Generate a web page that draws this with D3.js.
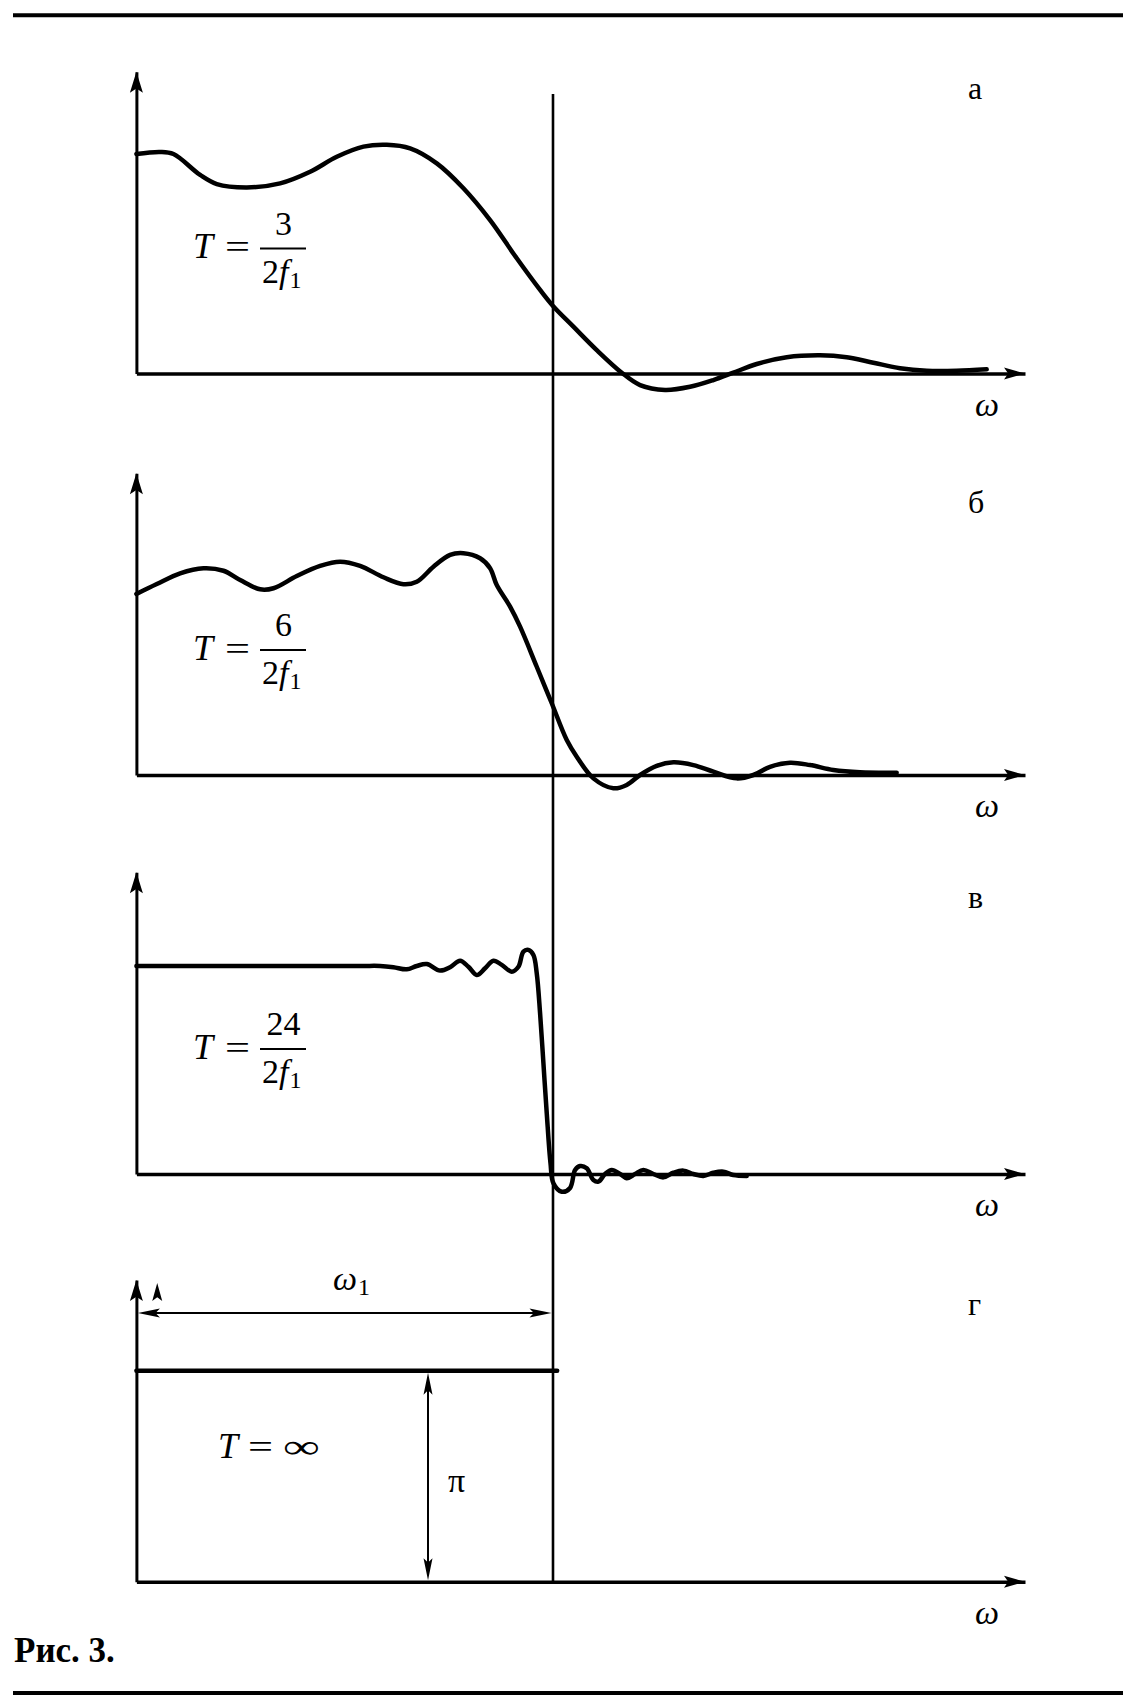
<!DOCTYPE html>
<html><head><meta charset="utf-8">
<script src="https://cdn.jsdelivr.net/npm/d3@7"></script>
<style>
body{margin:0;background:#fff}
text{font-family:"Liberation Serif","Times New Roman",serif;fill:#000}
</style>
</head><body>
<svg id="c" width="1138" height="1700"></svg>
<script>
// ---- data (ω in units of ω1, H in units of π) ----
const omegaA = [0, 0.057, 0.089, 0.153, 0.193, 0.265, 0.345, 0.417, 0.481, 0.545, 0.601, 0.657, 0.721, 0.785, 0.849, 0.913, 0.969, 1.0, 1.049, 1.105, 1.165, 1.209, 1.269, 1.329, 1.385, 1.433, 1.489, 1.561, 1.641, 1.705, 1.769, 1.833, 1.897, 1.969, 2.041];
const hA = [1.040, 1.050, 1.040, 0.941, 0.898, 0.882, 0.901, 0.956, 1.027, 1.075, 1.084, 1.067, 0.996, 0.878, 0.727, 0.546, 0.396, 0.320, 0.222, 0.111, 0.004, -0.055, -0.078, -0.063, -0.031, 0.004, 0.045, 0.077, 0.086, 0.077, 0.051, 0.025, 0.013, 0.013, 0.020];

const omegaB = [0, 0.049, 0.105, 0.161, 0.209, 0.249, 0.297, 0.329, 0.385, 0.441, 0.489, 0.537, 0.593, 0.641, 0.673, 0.713, 0.753, 0.785, 0.825, 0.849, 0.865, 0.897, 0.921, 0.961, 0.997, 1.033, 1.057, 1.097, 1.145, 1.177, 1.209, 1.249, 1.289, 1.337, 1.385, 1.441, 1.481, 1.521, 1.569, 1.617, 1.673, 1.737, 1.825];
const hB = [0.858, 0.905, 0.956, 0.980, 0.968, 0.924, 0.880, 0.885, 0.943, 0.991, 1.011, 0.991, 0.937, 0.904, 0.916, 0.987, 1.043, 1.051, 1.027, 0.980, 0.900, 0.798, 0.703, 0.513, 0.340, 0.166, 0.087, -0.016, -0.063, -0.047, 0, 0.043, 0.060, 0.047, 0.016, -0.016, 0, 0.039, 0.058, 0.047, 0.024, 0.013, 0.011];

const omegaC = [0, 0.537, 0.585, 0.617, 0.649, 0.673, 0.697, 0.729, 0.753, 0.777, 0.797, 0.817, 0.837, 0.857, 0.877, 0.901, 0.917, 0.929, 0.941, 0.953, 0.961, 0.969, 0.977, 0.985, 0.994, 1.001, 1.021, 1.041, 1.053, 1.065, 1.081, 1.097, 1.109, 1.125, 1.141, 1.161, 1.177, 1.197, 1.217, 1.241, 1.265, 1.289, 1.313, 1.337, 1.361, 1.385, 1.409, 1.433, 1.465];
const hC = [0.986, 0.986, 0.986, 0.980, 0.970, 0.986, 0.995, 0.964, 0.980, 1.011, 0.982, 0.943, 0.975, 1.011, 0.991, 0.959, 0.982, 1.054, 1.062, 1.038, 0.951, 0.762, 0.525, 0.288, 0.051, -0.044, -0.084, -0.066, 0.019, 0.038, 0.027, -0.028, -0.036, 0, 0.019, 0, -0.020, 0, 0.019, 0, -0.016, 0.006, 0.016, 0, -0.009, 0.006, 0.011, -0.005, -0.009];

const omegaD = [0, 1.01];
const hD = [1, 1];

const panelLetters = ["а", "б", "в", "г"];
const numerators = ["3", "6", "24", null];
const axisLabel = "ω";
const caption = "Рис. 3.";

// ---- layout ----
const omegaMax = 2.133, hMax = 1.43;
const axisYs = [373.5, 775, 1174, 1581.7];
const letterYs = [99, 513, 908, 1315];
const unitPx = 211;

const svg = d3.select("#c");
svg.append("rect").attr("width",1138).attr("height",1700).attr("fill","#fff");

const x = d3.scaleLinear().domain([0, omegaMax]).range([136.4, 1025]);

function arrowPath(len, hw){ return `M0,0L${-len},${-hw}L${-len*0.8},0L${-len},${hw}Z`; }
function arrow(g, px, py, ang, len, hw){
  g.append("path").attr("d", arrowPath(len, hw))
   .attr("transform", `translate(${px},${py}) rotate(${ang})`).attr("fill","#000");
}

const series = [
  {om: omegaA, h: hA}, {om: omegaB, h: hB}, {om: omegaC, h: hC}, {om: omegaD, h: hD}
];
const yScales = [];

axisYs.forEach((ay, i) => {
  const y = d3.scaleLinear().domain([0, hMax]).range([ay, ay - hMax*unitPx]);
  yScales.push(y);
  const g = svg.append("g");
  // axes
  const xa = g.append("g").attr("transform", `translate(0,${ay})`)
    .call(d3.axisBottom(x).tickValues([]).tickSizeOuter(0));
  xa.select(".domain").attr("stroke","#000").attr("stroke-width",3.5);
  const ya = g.append("g").attr("transform", `translate(${x(0)},0)`)
    .call(d3.axisLeft(y).tickValues([]).tickSizeOuter(0));
  ya.select(".domain").attr("stroke","#000").attr("stroke-width",3);
  arrow(g, x(omegaMax), ay, 0, 21, 6);
  arrow(g, x(0), y(hMax), -90, 21, 6.5);

  // curve
  const s = series[i];
  const pts = s.om.map((o, k) => [o, s.h[k]]);
  const line = d3.line().x(d => x(d[0])).y(d => y(d[1]))
    .curve(i === 3 ? d3.curveLinear : d3.curveCatmullRom.alpha(0.5));
  g.append("path").datum(pts).attr("d", line).attr("fill","none")
    .attr("stroke","#000").attr("stroke-width",4.5)
    .attr("stroke-linecap","round").attr("stroke-linejoin","round");

  // panel letter
  g.append("text").attr("x",968).attr("y",letterYs[i]).attr("font-size",32).text(panelLetters[i]);
  // axis label ω
  g.append("text").attr("x",975).attr("y",ay+42).attr("font-size",34)
    .attr("font-style","italic").text(axisLabel);

  // T label
  if (numerators[i]) {
    g.append("text").attr("x",193).attr("y",ay-115.5).attr("font-size",36)
      .attr("font-style","italic").text("T");
    g.append("text").attr("x",225).attr("y",ay-115.5).attr("font-size",34)
      .attr("textLength",25).attr("lengthAdjust","spacingAndGlyphs").text("=");
    g.append("line").attr("x1",260).attr("x2",306).attr("y1",ay-125).attr("y2",ay-125)
      .attr("stroke","#000").attr("stroke-width",2.2);
    g.append("text").attr("x",283.5).attr("y",ay-139).attr("font-size",34)
      .attr("text-anchor","middle").text(numerators[i]);
    const den = g.append("text").attr("x",262).attr("y",ay-91).attr("font-size",34);
    den.append("tspan").text("2");
    den.append("tspan").attr("font-style","italic").text("f");
    den.append("tspan").attr("font-size",24).attr("dy",5).attr("dx",1).text("1");
  } else {
    g.append("text").attr("x",218).attr("y",ay-124).attr("font-size",36)
      .attr("font-style","italic").text("T");
    g.append("text").attr("x",248).attr("y",ay-124).attr("font-size",34)
      .attr("textLength",25).attr("lengthAdjust","spacingAndGlyphs").text("=");
    g.append("text").attr("x",283).attr("y",ay-124).attr("font-size",34)
      .attr("textLength",37).attr("lengthAdjust","spacingAndGlyphs").text("∞");
  }
});

// vertical ω1 line across all panels
const yA = yScales[0], yD = yScales[3];
svg.append("line").attr("x1",x(1)).attr("x2",x(1)).attr("y1",yA(1.325)).attr("y2",yD(0))
  .attr("stroke","#000").attr("stroke-width",2.6);

// panel г annotations
const gD = svg.append("g");
const yDim = 1.273;
gD.append("line").attr("x1",x(0)+10).attr("x2",x(1)-10).attr("y1",yD(yDim)).attr("y2",yD(yDim))
  .attr("stroke","#000").attr("stroke-width",2);
arrow(gD, x(0)+1.5, yD(yDim), 180, 22, 4.5);
arrow(gD, x(1)-1.5, yD(yDim), 0, 22, 4.5);
gD.append("text").attr("x",333).attr("y",1290).attr("font-size",34).attr("font-style","italic").text("ω");
gD.append("text").attr("x",358).attr("y",1295).attr("font-size",24).text("1");
arrow(gD, x(0.05), yD(1.416), -90, 18, 5);

const xPi = 0.70;
gD.append("line").attr("x1",x(xPi)).attr("x2",x(xPi)).attr("y1",yD(0)-10).attr("y2",yD(1)+10)
  .attr("stroke","#000").attr("stroke-width",2);
arrow(gD, x(xPi), yD(1)+2, -90, 22, 4.5);
arrow(gD, x(xPi), yD(0)-1.5, 90, 22, 4.5);
gD.append("text").attr("x",448).attr("y",1492).attr("font-size",34).text("π");

// rules and caption
svg.append("line").attr("x1",13).attr("x2",1123).attr("y1",15.3).attr("y2",15.3)
  .attr("stroke","#000").attr("stroke-width",4);
svg.append("line").attr("x1",13).attr("x2",1123).attr("y1",1693).attr("y2",1693)
  .attr("stroke","#000").attr("stroke-width",4);
svg.append("text").attr("x",14).attr("y",1662).attr("font-size",35).attr("font-weight","bold").text(caption);
</script>
</body></html>
